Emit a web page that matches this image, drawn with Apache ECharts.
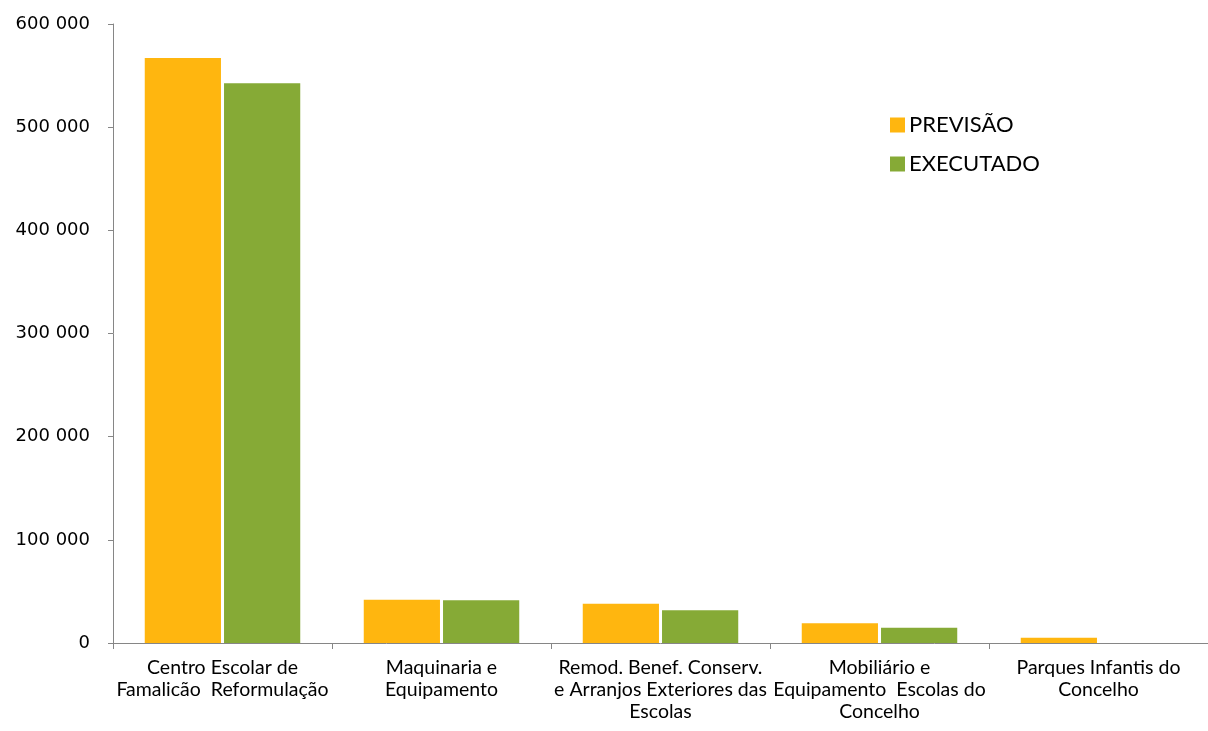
<!DOCTYPE html>
<html>
<head>
<meta charset="utf-8">
<script src="https://cdn.jsdelivr.net/npm/echarts@6/dist/echarts.min.js"></script>
<style>html,body{margin:0;padding:0;background:#fff}#c{width:1208px;height:731px}</style>
</head>
<body>
<div id="c"></div>
<script>
const categories = [
  "Centro Escolar de\nFamalicão  Reformulação",
  "Maquinaria e\nEquipamento",
  "Remod. Benef. Conserv.\ne Arranjos Exteriores das\nEscolas",
  "Mobiliário e\nEquipamento  Escolas do\nConcelho",
  "Parques Infantis do\nConcelho"
];
const previsao = [567000, 42000, 38100, 19100, 5100];
const executado = [542500, 41400, 31700, 14800, 0];
const seriesNames = ["PREVISÃO", "EXECUTADO"];

const chart = echarts.init(document.getElementById('c'));
const font = 'Lato, "Open Sans", sans-serif';
chart.setOption({
  animation: false,
  textStyle: {fontFamily: font},
  grid: {left: 113, right: 0, top: 24, bottom: 88, containLabel: false},
  legend: {
    orient: 'vertical', left: 885, top: 109, itemGap: 17,
    itemWidth: 15, itemHeight: 15, icon: 'rect',
    textStyle: {fontSize: 22, color: '#000', fontFamily: font, padding: [0,0,0,-1]},
    data: seriesNames
  },
  xAxis: {
    type: 'category', data: categories,
    axisLine: {lineStyle: {color: '#868686', width: 1}},
    axisTick: {show: true, length: 6, alignWithLabel: false, lineStyle: {color: '#868686'}},
    axisLabel: {color: '#000', fontSize: 19.5, lineHeight: 22, margin: 14, interval: 0, fontFamily: font}
  },
  yAxis: {
    type: 'value', min: 0, max: 600000, interval: 100000,
    splitLine: {show: false},
    axisLine: {show: true, lineStyle: {color: '#868686', width: 1}},
    axisTick: {show: true, length: 5, lineStyle: {color: '#868686'}},
    axisLabel: {color: '#000', fontSize: 18, margin: 23, fontFamily: '"DejaVu Sans", sans-serif',
      formatter: v => v === 0 ? '0' : String(v).replace(/\B(?=(\d{3})+(?!\d))/g, ' ')}
  },
  series: [
    {name: seriesNames[0], type: 'bar', data: previsao, itemStyle: {color: '#FFB60F'}, barCategoryGap: '29%', barGap: '4%'},
    {name: seriesNames[1], type: 'bar', data: executado, itemStyle: {color: '#86AA36'}}
  ]
});
</script>
</body>
</html>
